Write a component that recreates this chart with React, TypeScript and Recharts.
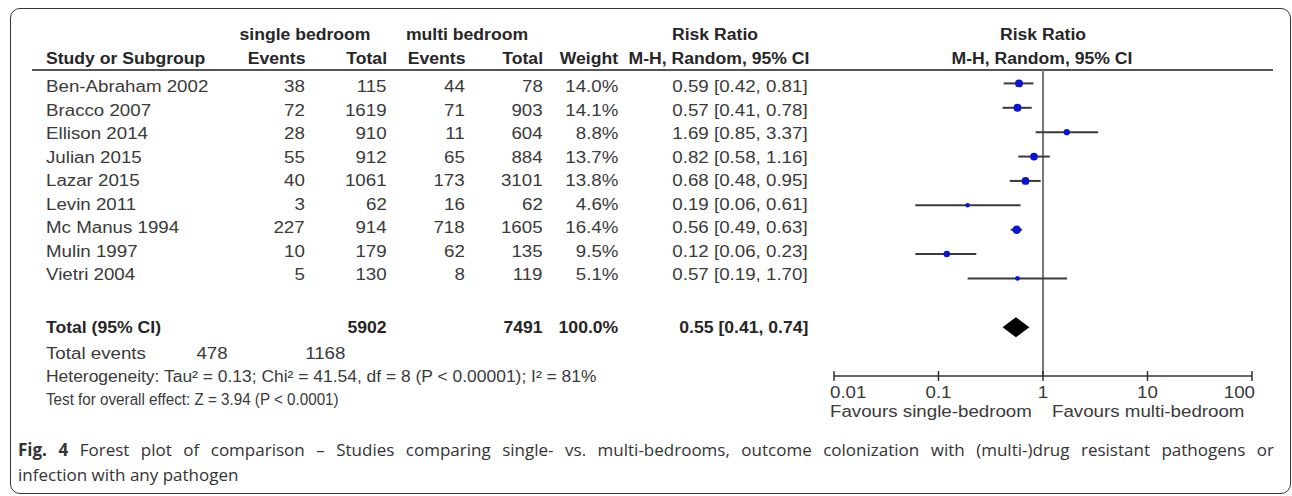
import React from 'react';
import { ScatterChart, Scatter, XAxis, YAxis, ReferenceLine, ErrorBar } from 'recharts';

const studyNames = [
  'Ben-Abraham 2002',
  'Bracco 2007',
  'Ellison 2014',
  'Julian 2015',
  'Lazar 2015',
  'Levin 2011',
  'Mc Manus 1994',
  'Mulin 1997',
  'Vietri 2004',
];
const singleEvents = [38, 72, 28, 55, 40, 3, 227, 10, 5];
const singleTotals = [115, 1619, 910, 912, 1061, 62, 914, 179, 130];
const multiEvents = [44, 71, 11, 65, 173, 16, 718, 62, 8];
const multiTotals = [78, 903, 604, 884, 3101, 62, 1605, 135, 119];
const weights = [14.0, 14.1, 8.8, 13.7, 13.8, 4.6, 16.4, 9.5, 5.1];
const riskRatios = [0.59, 0.57, 1.69, 0.82, 0.68, 0.19, 0.56, 0.12, 0.57];
const ciLower = [0.42, 0.41, 0.85, 0.58, 0.48, 0.06, 0.49, 0.06, 0.19];
const ciUpper = [0.81, 0.78, 3.37, 1.16, 0.95, 0.61, 0.63, 0.23, 1.7];

// pooled estimate [rr, lower, upper]
const pooled = [0.55, 0.41, 0.74];
const totalParticipants = [5902, 7491];
const totalEvents = [478, 1168];
const axisTicks = [0.01, 0.1, 1, 10, 100];

const heterogeneityText = 'Heterogeneity: Tau² = 0.13; Chi² = 41.54, df = 8 (P < 0.00001); I² = 81%';
const overallText = 'Test for overall effect: Z = 3.94 (P < 0.0001)';

const W = 1292;
const H = 496;
const FONT = '"Liberation Sans", Arial, Helvetica, sans-serif';
const TOTAL_ROW = 10;
const DIAMOND_HALF = 0.41;

const fmtCI = (rr: number, lo: number, hi: number) =>
  `${rr.toFixed(2)} [${lo.toFixed(2)}, ${hi.toFixed(2)}]`;

const studyPoints = studyNames.map((name, i) => ({
  name,
  x: riskRatios[i],
  y: i,
  w: weights[i],
  err: [riskRatios[i] - ciLower[i], ciUpper[i] - riskRatios[i]],
}));

const diamondPoints = [
  { x: pooled[1], y: TOTAL_ROW },
  { x: pooled[0], y: TOTAL_ROW - DIAMOND_HALF },
  { x: pooled[2], y: TOTAL_ROW },
  { x: pooled[0], y: TOTAL_ROW + DIAMOND_HALF },
];

type Anchor = 'start' | 'middle' | 'end';

const Txt = ({
  x,
  y,
  anchor = 'start',
  bold = false,
  sx,
  children,
}: {
  x: number;
  y: number;
  anchor?: Anchor;
  bold?: boolean;
  sx?: number;
  children: React.ReactNode;
}) => {
  const k = sx ?? (bold ? 1.1 : 1.17);
  const style: React.CSSProperties = {
    position: 'absolute',
    top: y - 7.8,
    whiteSpace: 'nowrap',
    fontFamily: FONT,
    fontSize: 16,
    lineHeight: '16px',
    fontWeight: bold ? 700 : 400,
    color: bold ? '#262626' : '#3a3a3a',
  };
  if (anchor === 'start') {
    style.left = x;
    style.transformOrigin = 'left center';
    style.transform = `scaleX(${k})`;
  } else if (anchor === 'end') {
    style.right = W - x;
    style.transformOrigin = 'right center';
    style.transform = `scaleX(${k})`;
  } else {
    style.left = x;
    style.transformOrigin = 'center center';
    style.transform = `translateX(-50%) scaleX(${k})`;
  }
  return <div style={style}>{children}</div>;
};

const AxisTick = (props: any) => {
  const { x, y, payload } = props;
  const v = payload.value;
  const first = v === axisTicks[0];
  const last = v === axisTicks[axisTicks.length - 1];
  const anchor = first ? 'start' : last ? 'end' : 'middle';
  const dx = first ? -4 : last ? 3 : 0;
  return (
    <g>
      <line x1={x} x2={x} y1={y - 5} y2={y + 5} stroke="#333" strokeWidth={1.5} />
      <text
        transform={`translate(${x + dx},${y + 22}) scale(1.17,1)`}
        textAnchor={anchor}
        fontFamily={FONT}
        fontSize={16}
        fill="#3a3a3a"
      >
        {v}
      </text>
    </g>
  );
};

const StudyMarker = (props: any) => {
  const { cx, cy, payload } = props;
  return <circle cx={cx} cy={cy} r={1.05 * Math.sqrt(payload.w)} fill="#0a14d2" />;
};

const renderDiamond = (props: any) => {
  const pts = (props.points || []).map((p: any) => `${p.x},${p.y}`).join(' ');
  return <polygon points={pts} fill="#000" />;
};

const rowY = (i: number) => 87 + 23.5 * i;

const captionStyle: React.CSSProperties = {
  position: 'absolute',
  left: 18,
  fontFamily: '"Open Sans", "Noto Sans", sans-serif',
  fontSize: 17,
  lineHeight: '25px',
  color: '#333',
  whiteSpace: 'nowrap',
};

export default function App() {
  return (
    <div style={{ position: 'relative', width: W, height: H, background: '#fff', overflow: 'hidden' }}>
      <style>{'body{margin:0}'}</style>
      <div
        style={{
          position: 'absolute',
          left: 10,
          top: 8,
          width: 1281,
          height: 486,
          border: '1.5px solid #333',
          borderRadius: 10,
          boxSizing: 'border-box',
        }}
      />

      {/* header */}
      <Txt x={305} y={35} anchor="middle" bold>single bedroom</Txt>
      <Txt x={467} y={35} anchor="middle" bold>multi bedroom</Txt>
      <Txt x={715} y={35} anchor="middle" bold>Risk Ratio</Txt>
      <Txt x={1043} y={35} anchor="middle" bold>Risk Ratio</Txt>
      <Txt x={46} y={59} bold>Study or Subgroup</Txt>
      <Txt x={305} y={59} anchor="end" bold>Events</Txt>
      <Txt x={387} y={59} anchor="end" bold>Total</Txt>
      <Txt x={465} y={59} anchor="end" bold>Events</Txt>
      <Txt x={543} y={59} anchor="end" bold>Total</Txt>
      <Txt x={618} y={59} anchor="end" bold>Weight</Txt>
      <Txt x={809} y={59} anchor="end" bold>M-H, Random, 95% CI</Txt>
      <Txt x={1042} y={59} anchor="middle" bold>M-H, Random, 95% CI</Txt>
      <div style={{ position: 'absolute', left: 32, top: 69, width: 1241, height: 2, background: '#555' }} />

      {/* study rows */}
      {studyNames.map((name, i) => (
        <React.Fragment key={name}>
          <Txt x={46} y={rowY(i)}>{name}</Txt>
          <Txt x={305} y={rowY(i)} anchor="end">{singleEvents[i]}</Txt>
          <Txt x={387} y={rowY(i)} anchor="end">{singleTotals[i]}</Txt>
          <Txt x={465} y={rowY(i)} anchor="end">{multiEvents[i]}</Txt>
          <Txt x={543} y={rowY(i)} anchor="end">{multiTotals[i]}</Txt>
          <Txt x={618} y={rowY(i)} anchor="end">{weights[i].toFixed(1)}%</Txt>
          <Txt x={808} y={rowY(i)} anchor="end">{fmtCI(riskRatios[i], ciLower[i], ciUpper[i])}</Txt>
        </React.Fragment>
      ))}

      {/* totals */}
      <Txt x={46} y={327.5} bold>Total (95% CI)</Txt>
      <Txt x={387} y={327.5} anchor="end" bold>{totalParticipants[0]}</Txt>
      <Txt x={543} y={327.5} anchor="end" bold>{totalParticipants[1]}</Txt>
      <Txt x={618} y={327.5} anchor="end" bold>100.0%</Txt>
      <Txt x={808} y={327.5} anchor="end" bold>{fmtCI(pooled[0], pooled[1], pooled[2])}</Txt>
      <Txt x={46} y={354}>Total events</Txt>
      <Txt x={228} y={354} anchor="end">{totalEvents[0]}</Txt>
      <Txt x={345} y={354} anchor="end">{totalEvents[1]}</Txt>
      <Txt x={46} y={377} sx={1.09}>{heterogeneityText}</Txt>
      <Txt x={46} y={400} sx={0.95}>{overallText}</Txt>

      {/* axis captions */}
      <Txt x={830} y={411.5}>Favours single-bedroom</Txt>
      <Txt x={1052} y={411.5}>Favours multi-bedroom</Txt>

      <div style={{ position: 'absolute', left: 0, top: 0 }}>
        <ScatterChart width={W} height={H} margin={{ top: 70, right: 40, bottom: 80, left: 834 }}>
          <XAxis
            type="number"
            dataKey="x"
            scale="log"
            domain={[0.01, 100]}
            ticks={axisTicks}
            interval={0}
            allowDataOverflow
            tickSize={0}
            tickMargin={0}
            tick={<AxisTick />}
            axisLine={{ stroke: '#333', strokeWidth: 1.5 }}
            height={40}
          />
          <YAxis type="number" dataKey="y" hide reversed domain={[-0.55, 12]} allowDataOverflow />
          <ReferenceLine x={1} stroke="#777" strokeWidth={2} />
          <Scatter data={studyPoints} shape={<StudyMarker />} isAnimationActive={false}>
            <ErrorBar dataKey="err" direction="x" width={0} stroke="#3a3a3a" strokeWidth={2} />
          </Scatter>
          <Scatter
            data={diamondPoints}
            line={renderDiamond}
            shape={() => <g />}
            isAnimationActive={false}
          />
        </ScatterChart>
      </div>

      {/* caption */}
      <div
        style={{
          ...captionStyle,
          top: 437,
          width: 1256,
          whiteSpace: 'normal',
          textAlign: 'justify',
          textAlignLast: 'justify',
        }}
      >
        <b>Fig. 4</b> Forest plot of comparison – Studies comparing single- vs. multi-bedrooms, outcome
        colonization with (multi-)drug resistant pathogens or
      </div>
      <div style={{ ...captionStyle, top: 462 }}>infection with any pathogen</div>
    </div>
  );
}
